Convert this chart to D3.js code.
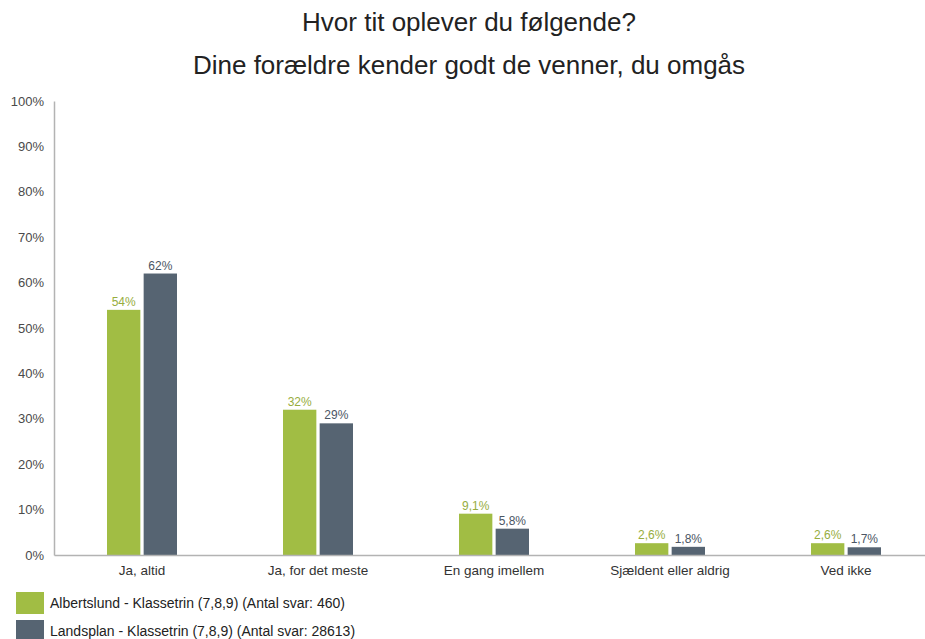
<!DOCTYPE html>
<html>
<head>
<meta charset="utf-8">
<script src="https://cdn.jsdelivr.net/npm/d3@7"></script>
<style>
  body { margin: 0; background: #fff; }
  svg { display: block; font-family: "Liberation Sans", Arial, sans-serif; }
</style>
</head>
<body>
<svg id="chart" width="925" height="639"></svg>
<script>
const categories = ["Ja, altid", "Ja, for det meste", "En gang imellem", "Sjældent eller aldrig", "Ved ikke"];
const albertslund = [54, 32, 9.1, 2.6, 2.6];
const landsplan = [62, 29, 5.8, 1.8, 1.7];
const seriesNames = [
  "Albertslund - Klassetrin (7,8,9) (Antal svar: 460)",
  "Landsplan - Klassetrin (7,8,9) (Antal svar: 28613)"
];
const yTicks = [0, 10, 20, 30, 40, 50, 60, 70, 80, 90, 100];
const titleLines = ["Hvor tit oplever du følgende?", "Dine forældre kender godt de venner, du omgås"];

const colors = ["#a1bd44", "#566472"];
const labelColors = ["#97ad3e", "#4b5664"];

var svg = d3.select("#chart"),
  margin = { top: 101, right: -9, bottom: 84, left: 54 },
  width = +svg.attr("width") - margin.left - margin.right,
  height = +svg.attr("height") - margin.top - margin.bottom;

var x0 = d3.scaleBand().domain(categories).range([0, width]).padding(0);
var groupW = 70;
var x1 = d3.scaleBand()
  .domain([0, 1])
  .range([x0.bandwidth() / 2 - groupW / 2, x0.bandwidth() / 2 + groupW / 2])
  .paddingInner(0.09);
var y = d3.scaleLinear().domain([0, 100]).range([height, 0]);

var data = categories.map((c, i) => ({ cat: c, vals: [albertslund[i], landsplan[i]] }));

// danish style labels: 54% / 9,1%
function pct(v) {
  return (v >= 10 ? d3.format(".0f")(v) : d3.format(".1f")(v).replace(".", ",")) + "%";
}

// title
svg.selectAll(".title")
  .data(titleLines)
  .enter()
  .append("text")
  .attr("class", "title")
  .attr("x", 469)
  .attr("y", (d, i) => 31 + i * 43)
  .attr("text-anchor", "middle")
  .attr("font-size", 26)
  .attr("fill", "#222")
  .text((d) => d);

var g = svg.append("g")
  .attr("transform", "translate(" + margin.left + "," + margin.top + ")");

// y axis
var yAxis = g.append("g")
  .call(d3.axisLeft(y).tickValues(yTicks).tickSize(0).tickPadding(10).tickFormat((d) => d + "%"));
yAxis.select(".domain").attr("stroke", "#b3b3b3").attr("stroke-width", 1.5);
yAxis.selectAll("text")
  .attr("font-size", 13)
  .attr("fill", "#4a4a4a")
  .attr("font-family", "Liberation Sans, Arial, sans-serif");

// bars
var groups = g.selectAll(".grp")
  .data(data)
  .enter()
  .append("g")
  .attr("class", "grp")
  .attr("transform", (d) => "translate(" + x0(d.cat) + ",0)");

groups.selectAll("rect")
  .data((d) => d.vals.map((v, i) => ({ v: v, i: i })))
  .enter()
  .append("rect")
  .attr("x", (d) => x1(d.i))
  .attr("y", (d) => y(d.v))
  .attr("width", x1.bandwidth())
  .attr("height", (d) => height - y(d.v))
  .attr("fill", (d) => colors[d.i]);

groups.selectAll(".lbl")
  .data((d) => d.vals.map((v, i) => ({ v: v, i: i })))
  .enter()
  .append("text")
  .attr("class", "lbl")
  .attr("x", (d) => x1(d.i) + x1.bandwidth() / 2)
  .attr("y", (d) => y(d.v) - 4)
  .attr("text-anchor", "middle")
  .attr("font-size", 12)
  .attr("fill", (d) => labelColors[d.i])
  .text((d) => pct(d.v));

// x axis
var xAxis = g.append("g")
  .attr("transform", "translate(0," + height + ")")
  .call(d3.axisBottom(x0).tickSize(0).tickPadding(10));
xAxis.select(".domain").attr("stroke", "#b3b3b3").attr("stroke-width", 1.5);
xAxis.selectAll("text")
  .attr("font-size", 13.5)
  .attr("fill", "#333")
  .attr("font-family", "Liberation Sans, Arial, sans-serif");

// legend
var legend = svg.selectAll(".legend")
  .data(seriesNames)
  .enter()
  .append("g")
  .attr("class", "legend")
  .attr("transform", (d, i) => "translate(16," + (592 + i * 28) + ")");

legend.append("rect")
  .attr("width", 28)
  .attr("height", 22)
  .attr("fill", (d, i) => colors[i]);

legend.append("text")
  .attr("x", 34)
  .attr("y", 16)
  .attr("font-size", 14)
  .attr("fill", "#222")
  .text((d) => d);
</script>
</body>
</html>
